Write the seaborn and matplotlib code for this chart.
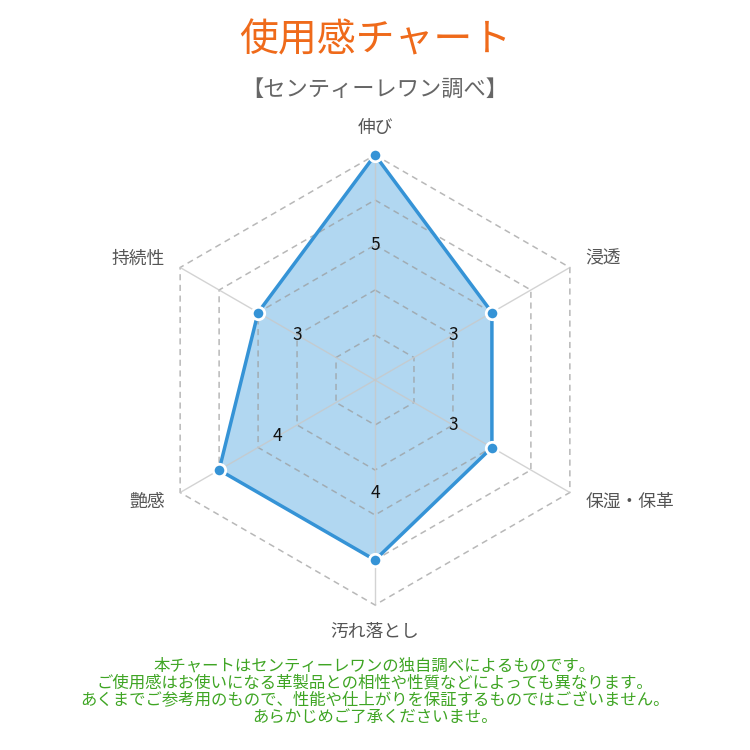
import numpy as np
import pandas as pd
import matplotlib
matplotlib.use("Agg")
import matplotlib.pyplot as plt
import seaborn as sns

# --- データ ---
CATEGORIES = ["伸び", "浸透", "保湿・保革", "汚れ落とし", "艶感", "持続性"]
SCORES = [5, 3, 3, 4, 4, 3]
RINGS = [1, 2, 3, 4, 5]
TITLE = "使用感チャート"
SUBTITLE = "【センティーレワン調べ】"
NOTE_LINES = [
    "本チャートはセンティーレワンの独自調べによるものです。",
    "ご使用感はお使いになる革製品との相性や性質などによっても異なります。",
    "あくまでご参考用のもので、性能や仕上がりを保証するものではございません。",
    "あらかじめご了承くださいませ。",
]

LINE_COLOR = "#3593d6"
FILL_COLOR = "#a9d3f0"


def make_chart():
    sns.set_theme(style="white")
    plt.rcParams["font.family"] = ["Noto Sans CJK JP", "DejaVu Sans"]

    n = len(CATEGORIES)
    angles = np.pi / 2 - np.arange(n) * 2 * np.pi / n
    df = pd.DataFrame({
        "cat": CATEGORIES,
        "score": SCORES,
        "x": np.array(SCORES) * np.cos(angles),
        "y": np.array(SCORES) * np.sin(angles),
    })

    fig = plt.figure(figsize=(7.5, 7.5), dpi=100)
    ax = fig.add_axes([0, 0, 1, 1])
    ax.set_xlim(-375 / 45, 375 / 45)
    ax.set_ylim(-370 / 45, 380 / 45)
    ax.set_aspect("equal")
    ax.axis("off")

    # データ（塗り）
    px = np.append(df["x"].values, df["x"].values[0])
    py = np.append(df["y"].values, df["y"].values[0])
    ax.fill(px, py, color=FILL_COLOR, alpha=0.9, zorder=1, lw=0)

    # グリッド（六角形・破線）
    for r in RINGS:
        gx = np.append(r * np.cos(angles), r * np.cos(angles[0]))
        gy = np.append(r * np.sin(angles), r * np.sin(angles[0]))
        ax.plot(gx, gy, color="#9a9a9a", alpha=0.7, lw=1.1,
                ls=(0, (4, 3)), zorder=2)
    # 放射線
    rmax = max(RINGS)
    for a in angles:
        ax.plot([0, rmax * np.cos(a)], [0, rmax * np.sin(a)],
                color="#c8c8c8", alpha=0.8, lw=1, zorder=2)

    ax.plot(px, py, color=LINE_COLOR, lw=2.5, zorder=3)
    sns.scatterplot(data=df, x="x", y="y", ax=ax, color=LINE_COLOR, s=80,
                    edgecolor="white", linewidth=2, zorder=4, legend=False)

    # 数値ラベル
    for a, v in zip(angles, SCORES):
        rl = (v + 1) / 2
        ax.text(rl * np.cos(a), rl * np.sin(a), str(v), ha="center", va="center",
                fontsize=12.5, color="#111111", zorder=5)

    # 項目ラベル
    for a, c in zip(angles, CATEGORIES):
        ca, sa = np.cos(a), np.sin(a)
        if abs(ca) < 0.1:
            va = "bottom" if sa > 0 else "top"
            ax.text(0, 5.4 * sa, c, ha="center", va=va, fontsize=12.8,
                    color="#555555")
        else:
            ha = "left" if ca > 0 else "right"
            ax.text(5.4 * ca, 5.4 * sa, c, ha=ha, va="center", fontsize=12.8,
                    color="#555555")

    fig.text(0.5, 1 - 40 / 750, TITLE, ha="center", va="center",
             fontsize=28, color="#ef6a1a")
    fig.text(0.5, 1 - 89 / 750, SUBTITLE, ha="center", va="center",
             fontsize=16, color="#666666")

    for i, line in enumerate(NOTE_LINES):
        fig.text(0.5, 1 - (666 + 17 * i) / 750, line, ha="center", va="center",
                 fontsize=11.8, color="#3fa524")

    fig.savefig("out.png", dpi=100, facecolor="white")


if __name__ == "__main__":
    make_chart()
